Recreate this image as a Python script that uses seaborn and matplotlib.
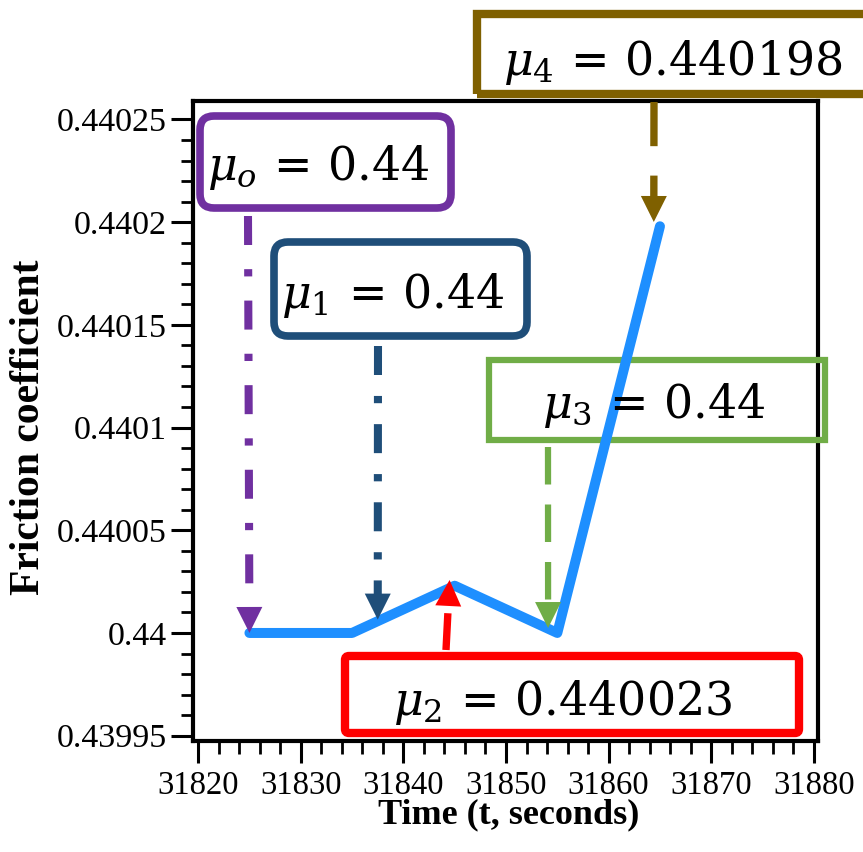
import matplotlib
matplotlib.use("Agg")
import numpy as np
import matplotlib.pyplot as plt
import seaborn as sns
import pandas as pd
from matplotlib.patches import FancyBboxPatch, Polygon
from matplotlib.transforms import IdentityTransform
from matplotlib.ticker import FixedLocator, MultipleLocator

# ---------------- data ----------------
time_s = [31825, 31835, 31845, 31855, 31865]
friction = [0.44, 0.44, 0.440023, 0.44, 0.440198]

x_ticks = [31820, 31830, 31840, 31850, 31860, 31870, 31880]
x_tick_labels = ["31820", "31830", "31840", "31850", "31860", "31870", "31880"]
y_ticks = [0.43995, 0.44, 0.44005, 0.4401, 0.44015, 0.4402, 0.44025]
y_tick_labels = ["0.43995", "0.44", "0.44005", "0.4401", "0.44015", "0.4402", "0.44025"]

mu_subscripts = ["o", "1", "2", "3", "4"]
mu_values = [0.44, 0.44, 0.440023, 0.44, 0.440198]
mu_colors = ["#7030A0", "#1F4E79", "#FF0000", "#70AD47", "#7F6000"]
# arrow tips (data coordinates)
tip_x = [31825, 31837.5, 31844.5, 31854.1, 31864.4]
tip_y = [0.44, 0.4400065, 0.4400258, 0.4400024, 0.4402001]

# ---------------- style ----------------
sns.set_theme(style="ticks")
plt.rcParams["font.family"] = ["Liberation Serif", "DejaVu Serif"]
plt.rcParams["mathtext.fontset"] = "dejavuserif"
plt.rcParams["text.color"] = "black"
plt.rcParams["axes.labelcolor"] = "black"

W, H = 863, 852
fig = plt.figure(figsize=(W / 100, H / 100), dpi=100)
fig.patch.set_facecolor("white")
ax = fig.add_axes([193 / W, 111 / H, 625 / W, 640 / H])
ax.set_facecolor("white")

df = pd.DataFrame({"Time": time_s, "Friction": friction})
sns.lineplot(data=df, x="Time", y="Friction", ax=ax, color="#1E8FFF",
             linewidth=7.2, solid_capstyle="round", solid_joinstyle="round",
             zorder=4)

ax.set_xlim(31819.5, 31880.4)
ax.set_ylim(0.4399474, 0.4402590)
ax.xaxis.set_major_locator(FixedLocator(x_ticks))
ax.set_xticklabels(x_tick_labels)
ax.xaxis.set_minor_locator(MultipleLocator(2))
ax.yaxis.set_major_locator(FixedLocator(y_ticks))
ax.set_yticklabels(y_tick_labels)
ax.yaxis.set_minor_locator(MultipleLocator(0.00001))

ax.tick_params(which="major", direction="out", length=16, width=2.2,
               color="black", labelsize=23.5, labelcolor="black", pad=5)
ax.tick_params(axis="y", which="major", labelsize=24.5, pad=3)
ax.tick_params(which="minor", direction="out", length=9, width=2.0,
               color="black")
for s in ax.spines.values():
    s.set_visible(True)
    s.set_linewidth(3)
    s.set_color("black")

ax.set_xlabel("Time (t, seconds)", fontsize=26, fontweight="bold", color="black")
ax.set_ylabel("Friction coefficient", fontsize=30, fontweight="bold", color="black")
ax.xaxis.set_label_coords(0.5056, -0.089)
ax.yaxis.set_label_coords(-0.232, 0.49)

# ---------------- annotation boxes (figure pixels, top-left origin) ----------------
box_rects = [(200, 116, 451, 208), (274, 242, 527, 336), (345, 656, 799, 733),
             (489, 360, 825, 440), (477, 14, 880, 94)]
box_round = [14, 14, 4, 0, 0]
box_lw = [5.5, 5.5, 6, 4.5, 6]
text_pos = [(318, 180), (393, 308), (563, 715), (654, 418), (673, 75)]
arrow_start = [(248, 216), (378, 346), (446, 650), (548, 447), (654, 102)]
arrow_lw = [5.8, 5.8, 5.3, 4.5, 5.3]
arrow_ls = [(0, (3.6, 3.0, 0.9, 3.0)), (0, (3.6, 2.6, 0.9, 2.6)),
            (0, (5.0, 2.6)), (0, (6.0, 3.2)), (0, (6.0, 4.0))]
head_len, head_half = 26.0, 13.0

ident = IdentityTransform()
for i in range(5):
    x0, y0, x1, y1 = box_rects[i]
    if box_round[i] > 0:
        bs = f"round,pad=0,rounding_size={box_round[i]}"
    else:
        bs = "square,pad=0"
    patch = FancyBboxPatch((x0, H - y1), x1 - x0, y1 - y0, boxstyle=bs,
                           transform=ident, facecolor="none",
                           edgecolor=mu_colors[i], linewidth=box_lw[i],
                           clip_on=False, zorder=3)
    ax.add_patch(patch)
    tx, ty = text_pos[i]
    label = rf"$\mu_{{{mu_subscripts[i]}}}\,=\,{mu_values[i]:g}$"
    ax.text(tx, H - ty, label, transform=ident, ha="center", va="baseline",
            fontsize=33, color="black", zorder=7, clip_on=False)

    # arrow: dashed shaft + solid triangular head
    tip = ax.transData.transform((tip_x[i], tip_y[i]))
    start = np.array([arrow_start[i][0], H - arrow_start[i][1]], dtype=float)
    d = tip - start
    u = d / np.hypot(*d)
    perp = np.array([-u[1], u[0]])
    base = tip - u * head_len
    ax.annotate("", xy=tuple(base + u * 2), xycoords="figure pixels",
                xytext=tuple(start), textcoords="figure pixels",
                arrowprops=dict(arrowstyle="-", color=mu_colors[i],
                                linewidth=arrow_lw[i], linestyle=arrow_ls[i],
                                shrinkA=0, shrinkB=0, capstyle="butt"),
                zorder=6, annotation_clip=False)
    head = Polygon([tip, base + perp * head_half, base - perp * head_half],
                   closed=True, transform=ident, facecolor=mu_colors[i],
                   edgecolor="none", clip_on=False, zorder=6)
    ax.add_patch(head)

fig.savefig("out.png", dpi=100, facecolor="white")
